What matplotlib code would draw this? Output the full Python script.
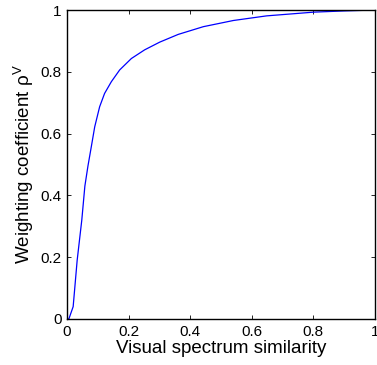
import matplotlib
matplotlib.use("Agg")
import matplotlib.pyplot as plt
from matplotlib.ticker import FuncFormatter

plt.rcParams['font.family'] = ['Liberation Sans', 'DejaVu Sans']
plt.rcParams['mathtext.default'] = 'regular'

similarity = [0, 0.006, 0.02, 0.033, 0.048, 0.058, 0.068, 0.079, 0.090, 0.106,
              0.122, 0.144, 0.171, 0.209, 0.252, 0.301, 0.361, 0.4425, 0.54,
              0.648, 0.80, 0.90, 1.0]
weight = [0, 0, 0.04, 0.19, 0.32, 0.43, 0.495, 0.558, 0.622, 0.687,
          0.730, 0.768, 0.806, 0.843, 0.871, 0.896, 0.921, 0.946, 0.966,
          0.981, 0.993, 0.997, 1.0]
ticks = [0, 0.2, 0.4, 0.6, 0.8, 1]

fig = plt.figure(figsize=(3.77, 3.65), dpi=100)
ax = fig.add_axes([67/377, 46/365, 308/377, 309/365])
ax.plot(similarity, weight, color='#0000ff', lw=0.9)
ax.set_xlim(0, 1)
ax.set_ylim(0, 1)
ax.set_xticks(ticks)
ax.set_yticks(ticks)
fmt = FuncFormatter(lambda v, p: '%g' % v)
ax.xaxis.set_major_formatter(fmt)
ax.yaxis.set_major_formatter(fmt)
ax.tick_params(direction='in', top=True, right=True, length=3, width=0.6, labelsize=11, pad=4)
for s in ax.spines.values():
    s.set_linewidth(1.0)
ax.set_xlabel('Visual spectrum similarity', fontsize=13.5, labelpad=1)
ax.set_ylabel(r'Weighting coefficient $\rho^{V}$', fontsize=13.5, labelpad=3)
fig.savefig('out.png', dpi=100)
